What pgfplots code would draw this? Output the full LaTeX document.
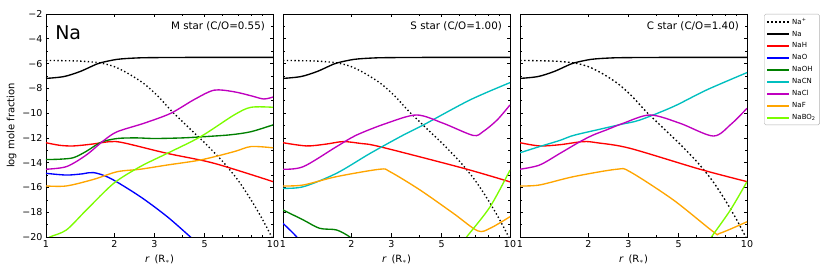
\documentclass[border=0pt]{standalone}
\usepackage{fontspec}
\setmainfont{DejaVu Sans}
\usepackage{pgfplots}
\pgfplotsset{compat=1.18}
\usepgfplotslibrary{groupplots}
\definecolor{cR}{HTML}{FF0000}
\definecolor{cB}{HTML}{0000FF}
\definecolor{cG}{HTML}{008000}
\definecolor{cC}{HTML}{00BFBF}
\definecolor{cM}{HTML}{BF00BF}
\definecolor{cO}{HTML}{FFA500}
\definecolor{cL}{HTML}{7CFC00}
\begin{document}
\begin{tikzpicture}
\begin{groupplot}[group style={group size=3 by 1, horizontal sep=10pt},
 width=227pt, height=223pt, scale only axis,
 xmode=log, xmin=1, xmax=10, ymin=-20, ymax=-2,
 xtick={1,2,3,5,10}, xticklabels={1,2,3,5,10}, minor xtick={4,6,7,8,9},
 ytick={-20,-18,...,-2}, minor y tick num=1,
 tick align=inside, major tick length=3.5pt, minor tick length=2pt,
 tick style={black, line width=0.6pt}, axis line style={line width=0.8pt},
 ticklabel style={font=\fontsize{9.5}{11}\selectfont},
 xlabel={\textit{r}\, (R$_\ast$)}, label style={font=\fontsize{10}{12}\selectfont},
 ylabel style={yshift=-1pt},
 every axis plot/.append style={line width=1.35pt, smooth, tension=0.5},
 every axis plot post/.append style={mark=none},
]
%%%%%%%%%%%%%%%% M star
\nextgroupplot[yticklabels={−20,−18,−16,−14,−12,−10,−8,−6,−4,−2}, ylabel={log mole fraction}]
\coordinate (bl) at (rel axis cs:0,0);
\addplot[black, dash pattern=on 1.35pt off 2.45pt] coordinates {(1,-5.75) (1.4,-5.8) (1.73,-5.95) (2.0,-6.25) (2.3,-6.8) (2.69,-7.6) (3.1,-8.6) (3.56,-9.8) (4.0,-10.7) (4.5,-11.6) (5.0,-12.4) (6.0,-13.9) (7.0,-15.4) (8.0,-17.0) (9.0,-18.6) (10,-20.2)};
\addplot[black] coordinates {(1,-7.2) (1.2,-7.05) (1.41,-6.65) (1.6,-6.2) (1.73,-5.95) (2.06,-5.66) (2.5,-5.55) (3,-5.52) (5,-5.5) (10,-5.5)};
\addplot[cR] coordinates {(1,-12.39) (1.15,-12.6) (1.32,-12.65) (1.6,-12.5) (1.92,-12.3) (2.2,-12.4) (3.42,-13.25) (5.5,-14.05) (10,-15.53)};
\addplot[cB] coordinates {(1,-14.86) (1.23,-15.0) (1.45,-14.9) (1.62,-14.8) (1.92,-15.26) (2.6,-16.74) (3.42,-18.36) (4.33,-20) (5,-21)};
\addplot[cG] coordinates {(1,-13.75) (1.15,-13.72) (1.32,-13.6) (1.5,-13.1) (1.75,-12.35) (2.06,-12.05) (2.5,-12.0) (3,-12.05) (4,-12.0) (5,-11.9) (6.5,-11.75) (8,-11.5) (10,-10.95)};
\addplot[cM] coordinates {(1,-14.53) (1.23,-14.32) (1.5,-13.4) (1.8,-12.2) (2.06,-11.5) (2.7,-10.82) (3.54,-10.02) (4.5,-8.9) (5.5,-8.15) (6.7,-8.27) (8,-8.6) (9.1,-8.86) (10,-8.7)};
\addplot[cO] coordinates {(1,-15.88) (1.23,-15.88) (1.62,-15.35) (2.06,-14.73) (2.6,-14.53) (3.42,-14.19) (4.8,-13.78) (6.74,-13.11) (8,-12.7) (10,-12.8)};
\addplot[cL] coordinates {(1,-20.3) (1.04,-20) (1.23,-19.43) (1.51,-17.8) (1.99,-15.66) (2.6,-14.32) (3.42,-13.25) (4.8,-11.9) (6.74,-10.15) (8,-9.53) (10,-9.53)};
\node[anchor=north east, inner sep=0pt, font=\fontsize{10.3}{12}\selectfont] at (rel axis cs:0.965,0.965) {M star (C/O=0.55)};
\node[anchor=north west, inner sep=0pt, font=\fontsize{19}{20}\selectfont] at (rel axis cs:0.04,0.95) {Na};
%%%%%%%%%%%%%%%% S star
\nextgroupplot[yticklabels={}]
\addplot[black, dash pattern=on 1.35pt off 2.45pt] coordinates {(1,-5.75) (1.4,-5.8) (1.73,-5.95) (2.0,-6.25) (2.3,-6.8) (2.69,-7.6) (3.1,-8.6) (3.56,-9.8) (4.0,-10.7) (4.5,-11.6) (5.0,-12.4) (6.0,-13.9) (7.0,-15.4) (8.0,-17.0) (9.0,-18.6) (10,-20.2)};
\addplot[black] coordinates {(1,-7.2) (1.2,-7.05) (1.41,-6.65) (1.6,-6.2) (1.73,-5.95) (2.06,-5.66) (2.5,-5.55) (3,-5.52) (5,-5.5) (10,-5.5)};
\addplot[cR] coordinates {(1,-12.39) (1.27,-12.65) (1.55,-12.5) (1.84,-12.3) (2.2,-12.45) (2.67,-12.71) (6.23,-14.45) (10,-15.55)};
\addplot[cB] coordinates {(1,-18.9) (1.15,-20) (1.25,-21)};
\addplot[cG] coordinates {(1,-17.82) (1.23,-18.63) (1.45,-19.3) (1.72,-19.43) (1.97,-20) (2.1,-20.6)};
\addplot[cC] coordinates {(1,-16.07) (1.23,-15.94) (1.72,-14.86) (2.42,-13.25) (3.39,-11.77) (4.15,-10.96) (6.66,-8.94) (10,-7.54)};
\addplot[cM] coordinates {(1,-14.53) (1.23,-14.32) (1.72,-12.71) (2.11,-11.77) (2.86,-10.82) (3.88,-10.15) (5.08,-10.82) (6.88,-11.8) (7.6,-11.5) (8.77,-10.56) (10,-9.34)};
\addplot[cO] coordinates {(1,-15.88) (1.23,-15.8) (1.72,-15.13) (2.67,-14.53) (2.96,-14.73) (4.01,-16.2) (5.63,-18.09) (7.2,-19.5) (8.17,-19.3) (10,-18.36)};
\addplot[cL] coordinates {(6.2,-20.5) (6.44,-20) (8.17,-17.56) (10,-14.6)};
\node[anchor=north east, inner sep=0pt, font=\fontsize{10.3}{12}\selectfont] at (rel axis cs:0.965,0.965) {S star (C/O=1.00)};
%%%%%%%%%%%%%%%% C star
\nextgroupplot[yticklabels={},
 legend style={at={(1.075,1)}, anchor=north west, font=\fontsize{7}{8}\selectfont, draw=black!30, rounded corners=1.5pt, inner sep=2pt, row sep=1.2pt, cells={anchor=west}},
 legend image code/.code={\draw[#1, line width=2pt] (0pt,0pt) -- (22pt,0pt);}]
\addplot[black, dash pattern=on 1.6pt off 2.4pt] coordinates {(1,-5.75) (1.4,-5.8) (1.73,-5.95) (2.0,-6.25) (2.3,-6.8) (2.69,-7.6) (3.1,-8.6) (3.56,-9.8) (4.0,-10.7) (4.5,-11.6) (5.0,-12.4) (6.0,-13.9) (7.0,-15.4) (8.0,-17.0) (9.0,-18.6) (10,-20.2)};
\addplot[black] coordinates {(1,-7.2) (1.2,-7.05) (1.41,-6.65) (1.6,-6.2) (1.73,-5.95) (2.06,-5.66) (2.5,-5.55) (3,-5.52) (5,-5.5) (10,-5.5)};
\addplot[cR] coordinates {(1,-12.39) (1.22,-12.65) (1.5,-12.55) (1.9,-12.3) (2.2,-12.4) (3.05,-12.84) (6.2,-14.53) (10,-15.53)};
\addplot[cB] coordinates {(1,-24) (1.5,-28)};
\addplot[cG] coordinates {(1,-23) (1.5,-26)};
\addplot[cC] coordinates {(1,-13.2) (1.22,-12.7) (1.5,-12.2) (1.72,-11.8) (2.25,-11.3) (2.8,-10.9) (3.37,-10.56) (4.73,-9.48) (6.64,-8.13) (10,-6.73)};
\addplot[cM] coordinates {(1,-14.53) (1.22,-14.19) (1.5,-13.25) (1.84,-12.3) (2.1,-11.77) (2.4,-11.36) (2.85,-10.82) (3.74,-10.15) (5.07,-10.82) (7.1,-11.85) (8.5,-10.9) (10,-9.61)};
\addplot[cO] coordinates {(1,-15.88) (1.22,-15.8) (1.72,-15.13) (2.67,-14.53) (3.05,-14.73) (4.73,-17.0) (7.1,-19.57) (7.6,-19.7) (10,-18.77)};
\addplot[cL] coordinates {(6.7,-20.5) (6.97,-20) (8.45,-17.82) (10,-15.53)};
\legend{Na\textsuperscript{+}, Na, NaH, NaO, NaOH, NaCN, NaCl, NaF, NaBO\textsubscript{2}}
\node[anchor=north east, inner sep=0pt, font=\fontsize{10.3}{12}\selectfont] at (rel axis cs:0.965,0.965) {C star (C/O=1.40)};
\end{groupplot}
\path (bl) ++(-46pt,-33pt) rectangle ++(830pt,270pt);
\end{tikzpicture}
\end{document}
